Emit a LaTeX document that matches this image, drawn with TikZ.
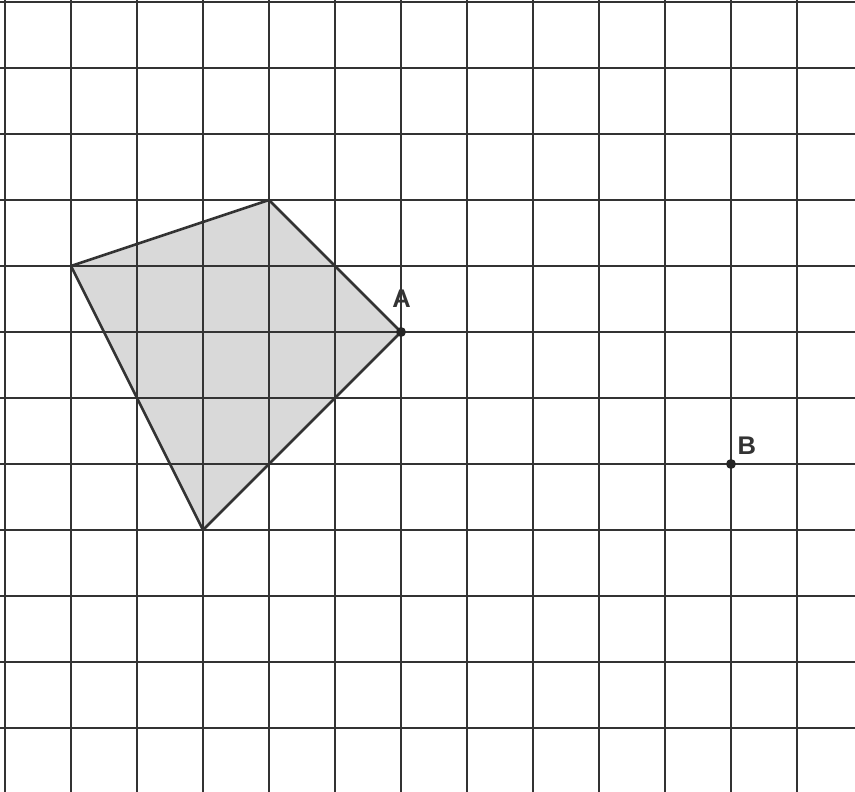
\documentclass[tikz,border=0pt]{standalone}
\usepackage{fontspec}
\setmainfont{Liberation Sans}
\begin{document}
\begin{tikzpicture}[x=1cm,y=1cm,
  gridline/.style={draw=black!80,line width=0.85pt},
  shapefill/.style={fill=black!15},
  shapeline/.style={draw=black!80,line width=1.1pt,line join=round},
  ptdot/.style={circle,fill=black!85,inner sep=0pt,minimum size=0.15cm},
  ptlabel/.style={font=\fontsize{11}{13}\selectfont\bfseries,text=black!80,inner sep=0pt}]
\useasboundingbox (-0.0758,-11.955) rectangle (12.879,0.0303);
\fill[white] (-0.0758,-11.955) rectangle (12.879,0.0303);
\coordinate (T) at (4,-3);
\coordinate (L) at (1,-4);
\coordinate (D) at (3,-8);
\coordinate (P) at (6,-5);
\fill[shapefill] (T) -- (P) -- (D) -- (L) -- cycle;
\begin{scope}
\clip (-0.0758,-11.955) rectangle (12.879,0.0303);
\foreach \i in {0,...,12} \draw[gridline] (\i,-12) -- (\i,0.1);
\foreach \j in {0,...,11} \draw[gridline] (-0.1,-\j) -- (13,-\j);
\end{scope}
\draw[shapeline] (T) -- (P) -- (D) -- (L) -- cycle;
\node[ptdot] (A) at (P) {};
\node[ptdot] (B) at (11,-7) {};
\node[ptlabel] (la) at (6.01,-4.50) {A};
\node[ptlabel] (lb) at (11.24,-6.73) {B};
\end{tikzpicture}
\end{document}
